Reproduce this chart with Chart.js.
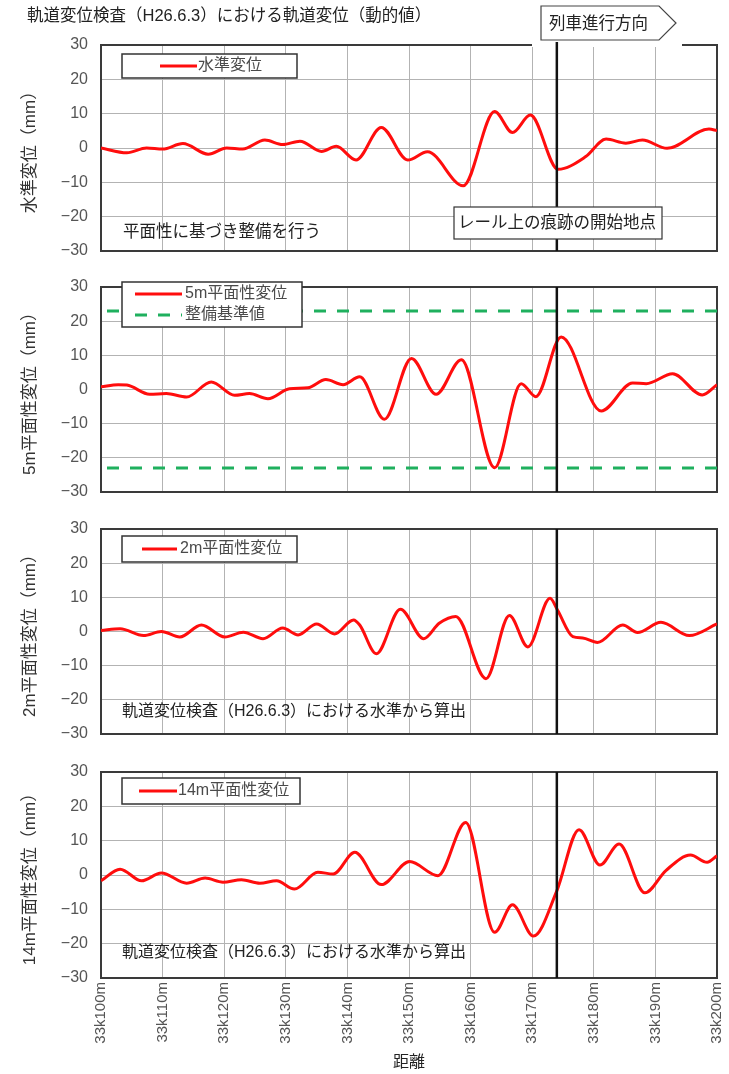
<!DOCTYPE html>
<html>
<head>
<meta charset="utf-8">
<script src="https://cdn.jsdelivr.net/npm/chart.js@4.4.0/dist/chart.umd.min.js"></script>
<style>
  body { margin: 0; background: #fff; }
  #wrap { position: relative; width: 729px; height: 1074px; overflow: hidden; background: #fff; }
  canvas { position: absolute; left: 0; }
</style>
</head>
<body>
<div id="wrap">
  <canvas id="c1"></canvas>
  <canvas id="c2"></canvas>
  <canvas id="c3"></canvas>
  <canvas id="c4"></canvas>
</div>
<script>
const FONT = "'Liberation Sans', 'Noto Sans CJK JP', sans-serif";

// distance from 33k100m (m) and value (mm)
const levelDist = [0, 4.2, 7.4, 10, 13.3, 17.4, 20.4, 23, 26.6, 29.5, 32.3, 35.8, 38.2, 41.4, 45.5, 49.8, 53, 58.8, 63.9, 66.8, 69.7, 74.2, 78.7, 82, 85.2, 87.9, 91.9, 98.7, 100];
const levelVals = [0, -1.4, 0, -0.3, 1.3, -1.8, 0, -0.3, 2.3, 1.0, 2.0, -1.0, 0.5, -3.5, 6.0, -3.5, -1.1, -11.0, 10.6, 4.5, 9.6, -6.2, -2.5, 2.6, 1.4, 2.3, -0.1, 5.5, 5.1];

const twist5Dist = [0, 2.8, 4.2, 7.9, 10.6, 13.9, 17.9, 21.7, 24.1, 27.1, 30.6, 33.6, 36.5, 39.3, 42, 46, 50.4, 54.4, 58.5, 63.9, 68.2, 70.6, 74.7, 81.2, 86.3, 88.5, 92.8, 97.6, 100];
const twist5Vals = [0.8, 1.4, 1.3, -1.4, -1.2, -2.2, 2.2, -1.7, -1.2, -2.7, 0.2, 0.5, 2.9, 1.4, 3.7, -8.7, 9.1, -1.4, 8.7, -22.9, 1.7, -2.1, 15.4, -6.3, 1.9, 1.7, 4.6, -1.6, 1.4];

const twist2Dist = [0, 3.1, 6.9, 9.8, 12.8, 16.3, 20.1, 23.1, 26.3, 29.5, 32, 35, 37.9, 41, 42, 44.7, 48.6, 52.4, 54.9, 57.6, 62.5, 66.3, 69.3, 72.9, 74.1, 76.6, 78.2, 80.6, 84.7, 87.1, 90.9, 95.5, 100];
const twist2Vals = [0.3, 0.8, -1.2, 0, -1.6, 1.9, -1.6, -0.2, -2.1, 1.0, -1.0, 2.2, -0.7, 3.4, 1.9, -6.5, 6.5, -2.1, 2.4, 4.4, -13.8, 4.7, -4.5, 9.7, 6.3, -1.5, -1.9, -3.2, 1.9, -0.3, 2.7, -1.2, 2.2];

const twist14Dist = [0, 3.1, 6.6, 9.8, 13.9, 16.9, 19.8, 22.8, 25.8, 28.5, 31.4, 35.2, 37.7, 41.2, 45.5, 50.1, 54.7, 59.2, 63.9, 66.8, 70.2, 74, 77.6, 81, 84.1, 88.3, 91.7, 95.7, 98.4, 100];
const twist14Vals = [-1.7, 1.7, -1.7, 0.6, -2.4, -0.9, -2.1, -1.4, -2.4, -1.7, -4.1, 0.8, 0.3, 6.6, -2.8, 3.9, -0.2, 15.3, -16.7, -8.7, -17.8, -4.6, 13.2, 2.9, 9.0, -5.2, 1.3, 5.8, 3.7, 5.6];

const limitValue = 23;     // 整備基準値 (±)
const markerDist = 74;     // レール上の痕跡の開始地点
const xTickValues = [0, 10, 20, 30, 40, 50, 60, 70, 80, 90, 100];
const xTickLabels = ['33k100m', '33k110m', '33k120m', '33k130m', '33k140m', '33k150m', '33k160m', '33k170m', '33k180m', '33k190m', '33k200m'];
const yTickValues = [-30, -20, -10, 0, 10, 20, 30];

const RED = '#ff0d0d';
const GREEN = '#1fb05e';

function pts(d, v) {
  return d.map((x, i) => ({ x: x, y: v[i] }));
}

function redLine(label, d, v) {
  return {
    label: label,
    data: pts(d, v),
    borderColor: RED,
    borderWidth: 3,
    pointRadius: 0,
    cubicInterpolationMode: 'monotone',
    fill: false
  };
}

function limitLine(label, sign) {
  return {
    label: label,
    data: [{ x: xTickValues[0], y: sign * limitValue }, { x: xTickValues[xTickValues.length - 1], y: sign * limitValue }],
    borderColor: GREEN,
    borderWidth: 3,
    borderDash: [12, 11],
    borderDashOffset: -6,
    pointRadius: 0,
    fill: false
  };
}

function txt(ctx, s, x, y, size, color, align) {
  ctx.font = size + 'px ' + FONT;
  ctx.fillStyle = color;
  ctx.textBaseline = 'middle';
  ctx.textAlign = align || 'left';
  ctx.fillText(s, x, y);
}

const decor = {
  id: 'decor',
  beforeDatasetsDraw(chart) {
    const { ctx, chartArea: a } = chart;
    ctx.save();
    ctx.strokeStyle = '#3a3a3a';
    ctx.lineWidth = 2;
    ctx.strokeRect(a.left, a.top, a.right - a.left, a.bottom - a.top);
    ctx.restore();
  },
  afterDatasetsDraw(chart, args, o) {
    const { ctx, chartArea: a } = chart;
    const off = o.canvasTop;
    ctx.save();

    if (o.gap) {
      ctx.fillStyle = '#fff';
      ctx.fillRect(o.gap[0], a.top - 3, o.gap[1] - o.gap[0], 5);
    }

    // start point of the marks on the rail
    const mx = chart.scales.x.getPixelForValue(markerDist);
    ctx.strokeStyle = '#111';
    ctx.lineWidth = 2.5;
    ctx.beginPath();
    ctx.moveTo(mx, o.markerTop != null ? o.markerTop - off : a.top);
    ctx.lineTo(mx, a.bottom);
    ctx.stroke();

    // legend box
    const L = o.legend;
    ctx.fillStyle = '#fff';
    ctx.fillRect(L.x, L.y - off, L.w, L.h);
    ctx.strokeStyle = '#333';
    ctx.lineWidth = 1.5;
    ctx.strokeRect(L.x, L.y - off, L.w, L.h);
    L.rows.forEach((r, i) => {
      const ds = chart.data.datasets[r.ds];
      const yy = L.rowY[i] - off;
      ctx.strokeStyle = ds.borderColor;
      ctx.lineWidth = 3;
      ctx.setLineDash(ds.borderDash || []);
      ctx.beginPath();
      ctx.moveTo(L.lineX[0], yy);
      ctx.lineTo(L.lineX[1], yy);
      ctx.stroke();
      ctx.setLineDash([]);
      txt(ctx, ds.label, L.textX, yy, 16, '#4a4a4a');
    });

    // notes
    (o.notes || []).forEach(n => {
      if (n.box) {
        ctx.fillStyle = '#fff';
        ctx.fillRect(n.box[0], n.box[1] - off, n.box[2], n.box[3]);
        ctx.strokeStyle = '#333';
        ctx.lineWidth = 1.2;
        ctx.strokeRect(n.box[0], n.box[1] - off, n.box[2], n.box[3]);
      }
      txt(ctx, n.text, n.x, n.y - off, n.size, '#222');
    });

    // heading and direction arrow
    if (o.heading) {
      txt(ctx, o.heading.text, o.heading.x, o.heading.y - off, 16.5, '#222');
    }
    if (o.arrow) {
      const w = o.arrow;
      ctx.beginPath();
      ctx.moveTo(w.x0, w.y0 - off);
      ctx.lineTo(w.x1, w.y0 - off);
      ctx.lineTo(w.tip, (w.y0 + w.y1) / 2 - off);
      ctx.lineTo(w.x1, w.y1 - off);
      ctx.lineTo(w.x0, w.y1 - off);
      ctx.closePath();
      ctx.fillStyle = '#fff';
      ctx.fill();
      ctx.strokeStyle = '#444';
      ctx.lineWidth = 1.2;
      ctx.stroke();
      txt(ctx, w.text, w.x0 + 8, (w.y0 + w.y1) / 2 - off + 1, 16.5, '#222');
    }
    ctx.restore();
  }
};

const PLOT_LEFT = 101;
const PLOT_RIGHT = 717;

function noPad(s) {
  s.paddingTop = 0;
  s.paddingBottom = 0;
  s.paddingLeft = 0;
  s.paddingRight = 0;
}

function makePanel(p) {
  const canvas = document.getElementById(p.id);
  const canvasTop = p.plotTop - p.padTop;
  const height = p.plotBottom - canvasTop + p.padBottom + p.xH;
  canvas.width = 729;
  canvas.height = height;
  canvas.style.top = canvasTop + 'px';
  p.decor.canvasTop = canvasTop;

  return new Chart(canvas, {
    type: 'line',
    data: { datasets: p.datasets },
    options: {
      responsive: false,
      animation: false,
      events: [],
      layout: { padding: { top: p.padTop, bottom: p.padBottom, left: 0, right: 729 - PLOT_RIGHT } },
      plugins: {
        legend: { display: false },
        tooltip: { enabled: false },
        decor: p.decor
      },
      scales: {
        x: {
          type: 'linear',
          min: xTickValues[0],
          max: xTickValues[xTickValues.length - 1],
          afterBuildTicks: s => { s.ticks = xTickValues.map(v => ({ value: v })); },
          afterFit: s => { s.height = p.xH; noPad(s); },
          border: { display: false },
          grid: { color: '#b3b3b3', lineWidth: 1, drawTicks: false },
          ticks: {
            display: p.showX,
            autoSkip: false,
            minRotation: 90,
            maxRotation: 90,
            padding: 4,
            color: '#555',
            font: { family: FONT, size: 15 },
            callback: v => xTickLabels[xTickValues.indexOf(v)]
          },
          title: {
            display: p.showX,
            text: '距離',
            color: '#222',
            font: { family: FONT, size: 16 },
            padding: { top: 0, bottom: 2 }
          }
        },
        y: {
          min: yTickValues[0],
          max: yTickValues[yTickValues.length - 1],
          afterBuildTicks: s => { s.ticks = yTickValues.map(v => ({ value: v })); },
          afterFit: s => { s.width = PLOT_LEFT; noPad(s); },
          border: { display: false },
          grid: { color: '#b3b3b3', lineWidth: 1, drawTicks: false },
          ticks: {
            padding: 13,
            color: '#555',
            font: { family: FONT, size: 16 },
            callback: v => (v < 0 ? '\u2212' + (-v) : String(v))
          },
          title: {
            display: true,
            text: p.yTitle,
            color: '#333',
            font: { family: FONT, size: 17 },
            padding: { top: 20, bottom: 0 }
          }
        }
      }
    },
    plugins: [decor]
  });
}

const sourceNote = '軌道変位検査（H26.6.3）における水準から算出';

makePanel({
  id: 'c1', plotTop: 45, plotBottom: 251, padTop: 45, padBottom: 8, xH: 2, showX: false,
  yTitle: '水準変位（mm）',
  datasets: [redLine('水準変位', levelDist, levelVals)],
  decor: {
    gap: [532, 682],
    markerTop: 42,
    legend: { x: 122, y: 54, w: 175, h: 24, lineX: [160, 197], textX: 198, rows: [{ ds: 0 }], rowY: [66] },
    notes: [
      { text: '平面性に基づき整備を行う', x: 123, y: 232, size: 16.5 },
      { text: 'レール上の痕跡の開始地点', x: 458, y: 223, size: 16.5, box: [454, 207, 208, 32] }
    ],
    heading: { text: '軌道変位検査（H26.6.3）における軌道変位（動的値）', x: 27, y: 16 },
    arrow: { x0: 541, x1: 659, tip: 676, y0: 6, y1: 40, text: '列車進行方向' }
  }
});

makePanel({
  id: 'c2', plotTop: 287, plotBottom: 492, padTop: 14, padBottom: 8, xH: 2, showX: false,
  yTitle: '5m平面性変位（mm）',
  datasets: [
    redLine('5m平面性変位', twist5Dist, twist5Vals),
    limitLine('整備基準値', 1),
    limitLine('整備基準値', -1)
  ],
  decor: {
    legend: { x: 122, y: 282, w: 180, h: 45, lineX: [135, 182], textX: 185, rows: [{ ds: 0 }, { ds: 1 }], rowY: [294, 315] },
    notes: []
  }
});

makePanel({
  id: 'c3', plotTop: 529, plotBottom: 734, padTop: 14, padBottom: 8, xH: 2, showX: false,
  yTitle: '2m平面性変位（mm）',
  datasets: [redLine('2m平面性変位', twist2Dist, twist2Vals)],
  decor: {
    legend: { x: 122, y: 536, w: 175, h: 26, lineX: [142, 177], textX: 180, rows: [{ ds: 0 }], rowY: [549] },
    notes: [{ text: sourceNote, x: 122, y: 712, size: 16 }]
  }
});

makePanel({
  id: 'c4', plotTop: 772, plotBottom: 978, padTop: 14, padBottom: 0, xH: 96, showX: true,
  yTitle: '14m平面性変位（mm）',
  datasets: [redLine('14m平面性変位', twist14Dist, twist14Vals)],
  decor: {
    legend: { x: 122, y: 778, w: 178, h: 26, lineX: [139, 177], textX: 178, rows: [{ ds: 0 }], rowY: [791] },
    notes: [{ text: sourceNote, x: 122, y: 953, size: 16 }]
  }
});
</script>
</body>
</html>
